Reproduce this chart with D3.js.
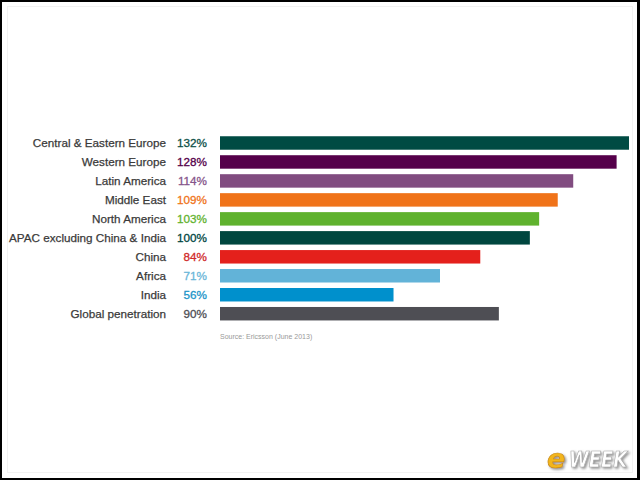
<!DOCTYPE html>
<html><head><meta charset="utf-8">
<script src="https://cdn.jsdelivr.net/npm/d3@7"></script>
<style>html,body{margin:0;padding:0;background:#fff;}svg{display:block;}</style>
</head><body>
<svg id="c" width="640" height="480"></svg>
<script>
const categories = ["Central & Eastern Europe","Western Europe","Latin America","Middle East","North America","APAC excluding China & India","China","Africa","India","Global penetration"];
const values = [132,128,114,109,103,100,84,71,56,90];
const barColors = ["#004b43","#55004a","#814c80","#f07319","#5fb22e","#00463f","#e4201c","#62b3d8","#0090cc","#4e4e54"];
const valueColors = ["#0d5048","#55004a","#86558a","#f07319","#5fb22e","#00463f","#d02a2a","#6ab6d8","#1a93c8","#4e4e54"];
const sourceText = "Source: Ericsson (June 2013)";

const svg = d3.select("#c");
const defs = svg.append("defs");
const f = defs.append("filter").attr("id","sh").attr("x","-20%").attr("y","-20%").attr("width","150%").attr("height","150%");
f.append("feDropShadow").attr("dx",1.5).attr("dy",1.5).attr("stdDeviation",0.8).attr("flood-color","#777").attr("flood-opacity",0.8);

// frame
svg.append("rect").attr("x",0).attr("y",0).attr("width",640).attr("height",480).attr("fill","#000");
svg.append("rect").attr("x",2).attr("y",2).attr("width",635).attr("height",476).attr("fill","#fff");
svg.append("rect").attr("x",7.5).attr("y",6.5).attr("width",625).attr("height",466).attr("fill","none").attr("stroke","#f2f2f2");

const x = d3.scaleLinear().domain([0,132]).range([220,629]);
const y = d3.scaleBand().domain(categories).range([133.5,323.2]).paddingInner(0.29).paddingOuter(0.145);

svg.selectAll("rect.bar").data(categories).join("rect").attr("class","bar")
  .attr("x",x(0)).attr("y",d=>y(d)).attr("height",y.bandwidth())
  .attr("width",(d,i)=>x(values[i])-x(0)).attr("fill",(d,i)=>barColors[i]);

svg.selectAll("text.lab").data(categories).join("text").attr("class","lab")
  .attr("x",166).attr("y",d=>y(d)+y.bandwidth()/2).attr("dy","0.36em")
  .attr("text-anchor","end").attr("font-family","'Liberation Sans', Arial, sans-serif")
  .attr("font-size","11.7px").attr("fill","#3a3a3a").attr("stroke","#3a3a3a").attr("stroke-width",0.25).text(d=>d);

svg.selectAll("text.val").data(categories).join("text").attr("class","val")
  .attr("x",207).attr("y",d=>y(d)+y.bandwidth()/2).attr("dy","0.36em")
  .attr("text-anchor","end").attr("font-family","'Liberation Sans', Arial, sans-serif")
  .attr("font-size","11.7px").attr("fill",(d,i)=>valueColors[i]).attr("stroke",(d,i)=>valueColors[i]).attr("stroke-width",0.3).text((d,i)=>values[i]+"%");

svg.append("text").attr("x",220).attr("y",339).attr("font-family","'Liberation Sans', Arial, sans-serif")
  .attr("font-size","7px").attr("fill","#999").text(sourceText);

// logo
const logo = svg.append("g").attr("font-family","'DejaVu Sans', sans-serif").attr("font-weight","bold").attr("font-style","italic").attr("filter","url(#sh)");
logo.append("text").attr("x",547).attr("y",468).attr("font-size","27px").attr("fill","#f2b51e").attr("stroke","#c88a10").attr("stroke-width",0.7).text("e");
logo.append("text").attr("x",569).attr("y",467).attr("font-size","21px").attr("fill","#fff").attr("stroke","#aaa").attr("stroke-width",0.7).attr("textLength",58).attr("lengthAdjust","spacingAndGlyphs").text("WEEK");
</script>
</body></html>
